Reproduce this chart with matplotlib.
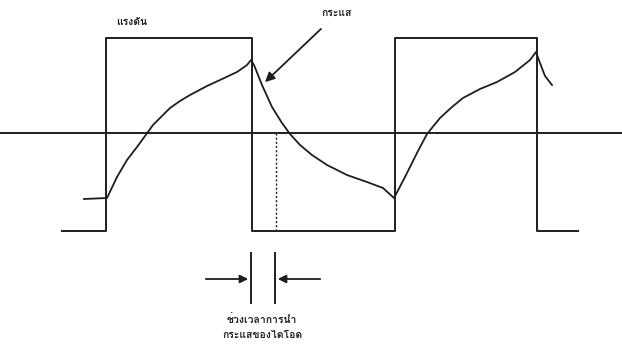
import matplotlib
matplotlib.use('Agg')
import matplotlib.pyplot as plt
from matplotlib import font_manager
from matplotlib.ft2font import FT2Font

# find a font that has Thai glyphs, fall back to DejaVu
thai_font = None
for f in font_manager.fontManager.ttflist:
    try:
        if FT2Font(f.fname).get_char_index(ord('ก')):
            thai_font = f.name
            break
    except Exception:
        pass
families = [thai_font, 'DejaVu Sans'] if thai_font else ['DejaVu Sans']

# voltage square wave (time, level)
volt_t = [62, 106, 106, 252, 252, 395, 395, 537, 537, 578]
volt_v = [-98, -98, 95, 95, -98, -98, 95, 95, -98, -98]

# current waveform
cur_t = [84, 107, 117, 127, 137, 145, 153, 162, 170, 180, 190, 207, 220, 237, 247, 251,
         254, 262, 272, 282, 290, 300, 312, 327, 347, 367, 383, 394,
         405, 418, 427, 440, 452, 463, 480, 497, 515, 530, 536,
         540, 545, 552]
cur_i = [-66, -65, -44, -27, -14, -3, 8, 17, 25, 32, 38, 47, 53, 61, 68, 73,
         68, 48, 26, 10, -1, -12, -22, -32, -42, -49, -55, -65,
         -44, -18, -1, 15, 26, 35, 44, 51, 61, 73, 81,
         70, 57, 48]

lbl_volt = 'แรงดัน'
lbl_cur = 'กระแส'
lbl_bottom = 'ช่วงเวลาการนำ\nกระแสของไดโอด'

col = '#1e1e1e'
fig = plt.figure(figsize=(6.22, 3.45), dpi=100)
ax = fig.add_axes([0, 0, 1, 1])
ax.set_xlim(0, 622)
ax.set_ylim(-212, 133)
ax.axis('off')

ax.axhline(0, color=col, lw=1.4)
ax.plot(volt_t, volt_v, color=col, lw=1.4)
ax.plot(cur_t, cur_i, color=col, lw=1.3)

# dotted marker where the diode stops conducting
ax.plot([276, 276], [0, -98], color=col, lw=1, ls=(0, (1.5, 1.5)))

# conduction interval markers
ax.plot([251, 251], [-120, -170], color=col, lw=1.4)
ax.plot([275, 275], [-120, -170], color=col, lw=1.4)
ax.annotate('', xy=(251, -146), xytext=(203, -146),
            arrowprops=dict(arrowstyle='-|>', color=col, lw=1.3, mutation_scale=12))
ax.annotate('', xy=(275, -146), xytext=(323, -146),
            arrowprops=dict(arrowstyle='-|>', color=col, lw=1.3, mutation_scale=12))

ax.annotate('', xy=(263, 49), xytext=(323, 106),
            arrowprops=dict(arrowstyle='-|>', color=col, lw=1.3, mutation_scale=14))

ax.text(132, 111, lbl_volt, family=families, fontsize=7.5, fontweight='bold',
        ha='center', va='center', color=col)
ax.text(337, 120, lbl_cur, family=families, fontsize=7.5, fontweight='bold',
        ha='center', va='center', color=col)
ax.text(262, -194, lbl_bottom, family=families, fontsize=7.5, fontweight='bold',
        ha='center', va='center', color=col, linespacing=1.6)

plt.savefig('out.png', dpi=100)
